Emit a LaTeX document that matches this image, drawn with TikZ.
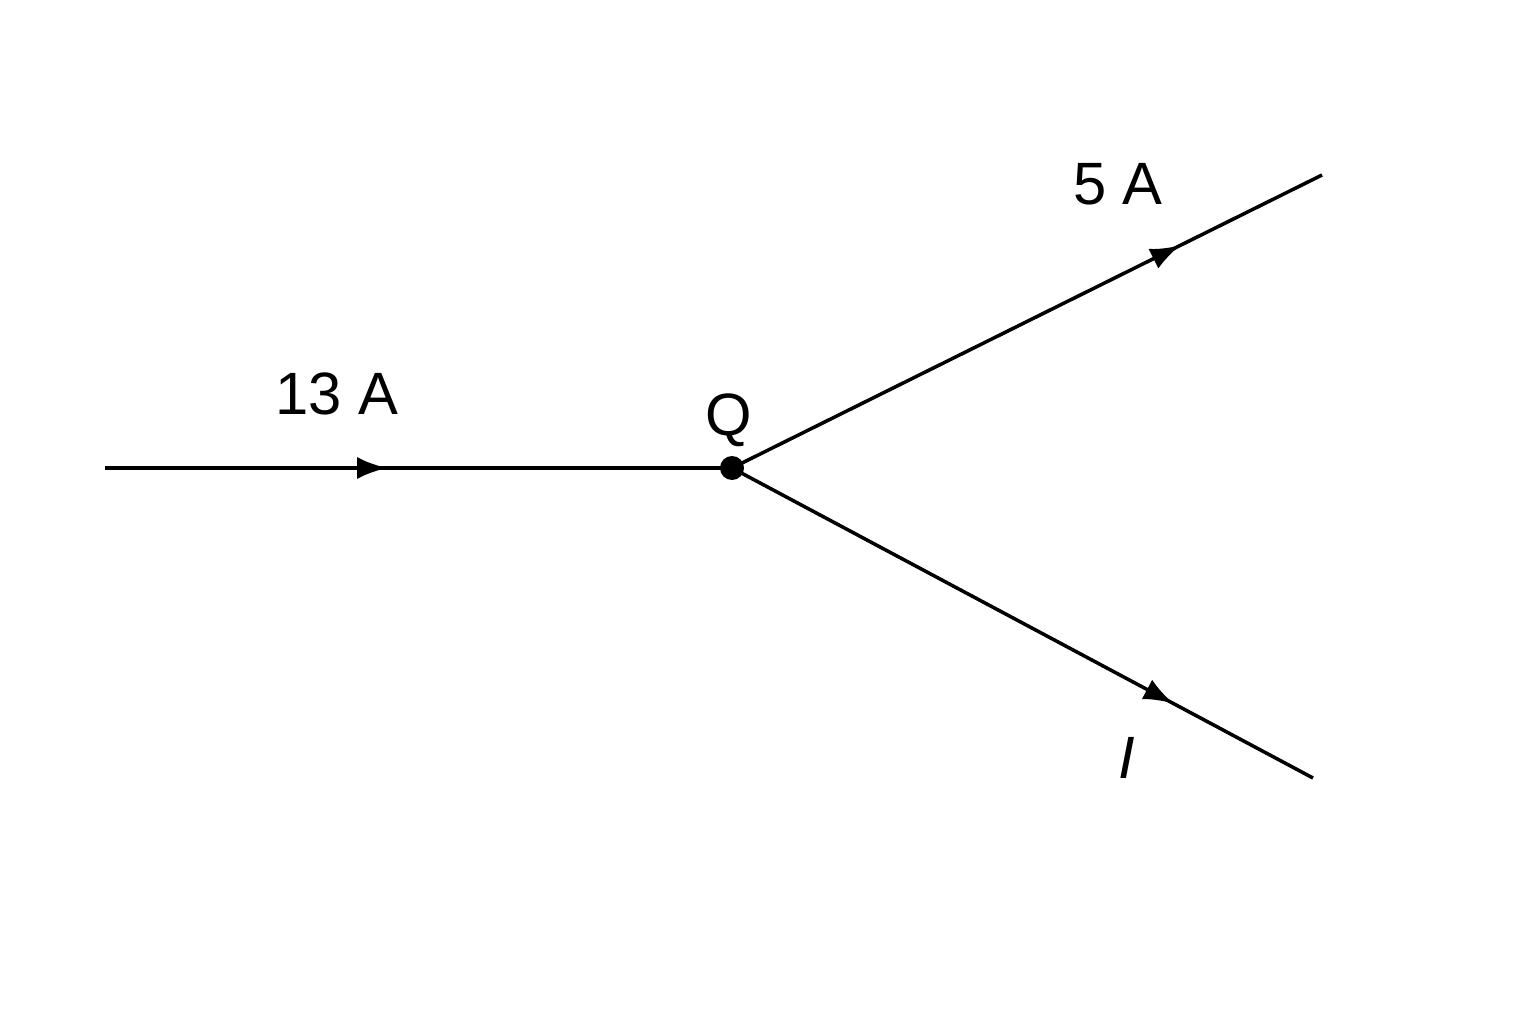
\documentclass[tikz,border=0pt]{standalone}
\usepackage{fontspec}
\setmainfont{Liberation Sans}
\usetikzlibrary{decorations.markings,arrows.meta}
\begin{document}
\begin{tikzpicture}[font=\fontsize{17}{20}\selectfont]
    \tikzstyle{wire}=[line width=1pt]
    \tikzstyle{flow}=[wire, postaction={decorate}, decoration={markings, mark=at position #1 with {\arrow{Latex[length=0.3cm,width=0.22cm]}}}]
    \useasboundingbox (0,0) rectangle (15.36,10.24);
    \coordinate (in) at (1.05,5.56);
    \coordinate (out-up) at (13.22,8.49);
    \coordinate (out-down) at (13.13,2.46);
    \node (Q) [circle, fill, inner sep=0pt, minimum size=0.24cm] at (7.32,5.56) {};
    \node (Q-label) at (7.29,6.04) {Q};
    \node (in-label) at (3.37,6.3) {13 A};
    \node (up-label) at (11.18,8.4) {5 A};
    \node (down-label) at (11.27,2.66) {\textit{I}};
    \draw [flow=0.45] (in) -- (Q.center);
    \draw [flow=0.76] (Q.center) -- (out-up);
    \draw [flow=0.76] (Q.center) -- (out-down);
\end{tikzpicture}
\end{document}
